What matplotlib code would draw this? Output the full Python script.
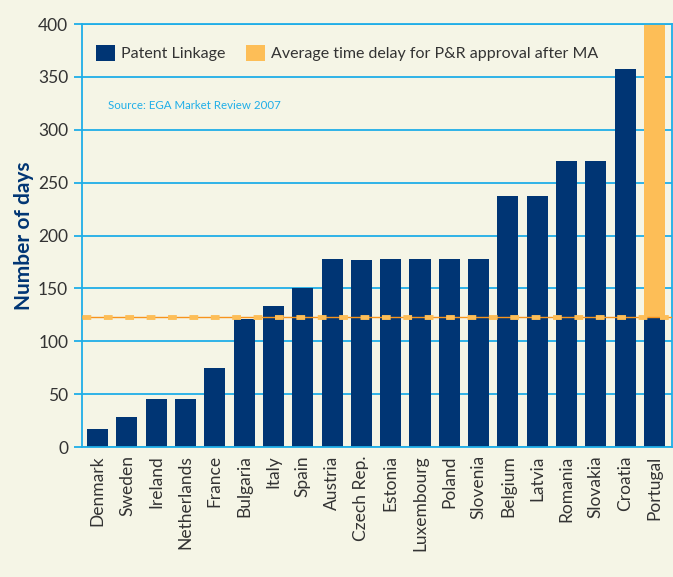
import matplotlib

matplotlib.use("Agg")
import matplotlib.pyplot as plt
import numpy as np
from matplotlib.patches import Patch

plt.rcParams["font.family"] = ["Lato", "DejaVu Sans"]

# ---- Data ----
COUNTRIES = ["Denmark", "Sweden", "Ireland", "Netherlands", "France", "Bulgaria",
             "Italy", "Spain", "Austria", "Czech Rep.", "Estonia", "Luxembourg",
             "Poland", "Slovenia", "Belgium", "Latvia", "Romania", "Slovakia",
             "Croatia", "Portugal"]
PATENT_LINKAGE = [17, 28, 45, 45, 75, 121, 133, 150, 178, 177, 178, 178,
                  178, 178, 237, 237, 270, 270, 357, 123]
# Portugal bar continues in orange above the linkage part
PORTUGAL_TOTAL = 400
AVG_DELAY = 123
YTICKS = [0, 50, 100, 150, 200, 250, 300, 350, 400]

# ---- Colours ----
NAVY = "#003574"
ORANGE = "#FDBE57"
ORANGE_LINE = "#F7941D"
GRID_BLUE = "#1FAEE8"
BG = "#F5F5E6"
TEXT = "#333333"

fig = plt.figure(figsize=(6.73, 5.77), dpi=100, facecolor=BG)
ax = fig.add_axes([0.122, 0.2253, 0.8765, 0.7331], facecolor=BG)

x = np.arange(len(COUNTRIES))
ax.set_axisbelow(True)
ax.yaxis.grid(True, color=GRID_BLUE, linewidth=1.3)

ax.bar(x, PATENT_LINKAGE, width=0.72, color=NAVY, zorder=2)
ax.bar(x[-1], PORTUGAL_TOTAL - PATENT_LINKAGE[-1], bottom=PATENT_LINKAGE[-1],
       width=0.72, color=ORANGE, zorder=2)

ax.axhline(AVG_DELAY, color=ORANGE_LINE, linewidth=1.0, zorder=3)
ax.axhline(AVG_DELAY, color=ORANGE, linewidth=3.5, dashes=(1.8, 2.6), zorder=4)

ax.set_xlim(-0.53, 19.6)
ax.set_ylim(0, 400)
ax.set_yticks(YTICKS)
ax.set_yticklabels([str(t) for t in YTICKS], fontsize=12.5, color=TEXT)
ax.set_xticks(x)
ax.set_xticklabels(COUNTRIES, rotation=90, fontsize=12.5, color=TEXT)
ax.tick_params(axis="x", length=0, pad=6)
ax.tick_params(axis="y", length=6, width=1.3, color=GRID_BLUE, pad=4)

for side in ["left", "bottom", "right", "top"]:
    ax.spines[side].set_color(GRID_BLUE)
    ax.spines[side].set_linewidth(1.3)

ax.set_ylabel("Number of days", fontsize=15, fontweight="bold", color=NAVY, labelpad=3)

handles = [Patch(facecolor=NAVY, label="Patent Linkage"),
           Patch(facecolor=ORANGE, label="Average time delay for P&R approval after MA")]
leg = ax.legend(handles=handles, loc="upper left", bbox_to_anchor=(0.0, 0.985), ncol=2,
                frameon=False, fontsize=11.5, handlelength=1.15, handleheight=1.15,
                handletextpad=0.4, columnspacing=1.3, borderaxespad=0.5)
for t in leg.get_texts():
    t.set_color(TEXT)

ax.text(0.044, 0.808, "Source: EGA Market Review 2007", transform=ax.transAxes,
        fontsize=8.3, color=GRID_BLUE, ha="left", va="center")

fig.savefig("out.png", dpi=100, facecolor=BG)
